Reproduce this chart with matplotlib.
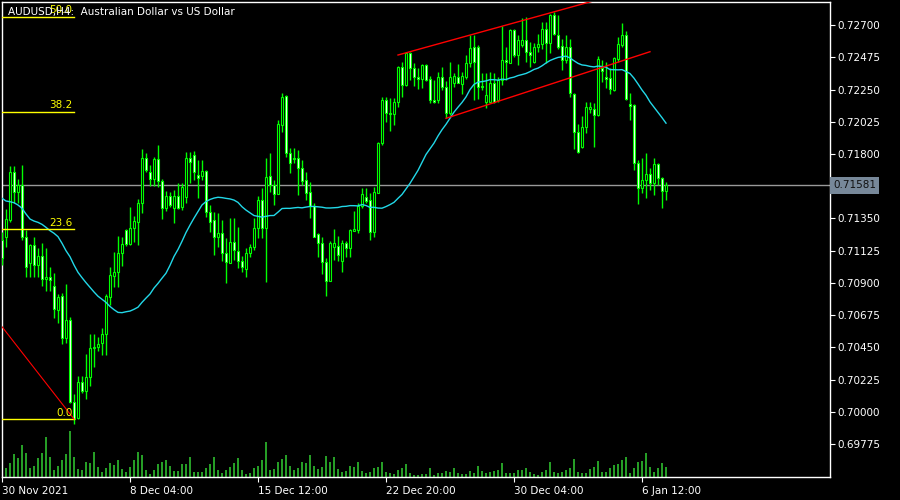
import matplotlib
matplotlib.use("Agg")
import matplotlib.pyplot as plt
import pandas as pd

symbol = "AUDUSD,H4:  Australian Dollar vs US Dollar"

# H4 bars, oldest first (bar 0 = 30 Nov 2021)
opens = [0.71200, 0.71221, 0.71339, 0.71674, 0.71535, 0.71584, 0.71221, 0.71039, 0.71165, 0.71025,
         0.71088, 0.70928, 0.70942, 0.70879, 0.70711, 0.70809, 0.70516, 0.70641, 0.70069, 0.69957,
         0.70209, 0.70146, 0.70244, 0.70446, 0.70453, 0.70481, 0.70544, 0.70802, 0.70949, 0.70976,
         0.71109, 0.71270, 0.71172, 0.71284, 0.71325, 0.71458, 0.71772, 0.71674, 0.71626, 0.71765,
         0.71612, 0.71423, 0.71507, 0.71423, 0.71507, 0.71430, 0.71500, 0.71772, 0.71793, 0.71653,
         0.71647, 0.71681, 0.71395, 0.71339, 0.71221, 0.71249, 0.71109, 0.71039, 0.71186, 0.71123,
         0.71053, 0.70997, 0.71109, 0.71151, 0.71284, 0.71479, 0.71284, 0.71647, 0.71584, 0.71521,
         0.72002, 0.72205, 0.71807, 0.71772, 0.71772, 0.71702, 0.71619, 0.71535, 0.71437, 0.71242,
         0.71179, 0.71046, 0.70914, 0.71151, 0.71158, 0.71053, 0.71179, 0.71144, 0.71263, 0.71270,
         0.71437, 0.71500, 0.71479, 0.71256, 0.71528, 0.71877, 0.72177, 0.72086, 0.72079, 0.72163,
         0.72407, 0.72282, 0.72505, 0.72400, 0.72338, 0.72324, 0.72421, 0.72324, 0.72177, 0.72177,
         0.72338, 0.72268, 0.72086, 0.72296, 0.72338, 0.72289, 0.72338, 0.72435, 0.72547, 0.72547,
         0.72275, 0.72163, 0.72163, 0.72296, 0.72177, 0.72317, 0.72456, 0.72435, 0.72666, 0.72491,
         0.72561, 0.72596, 0.72512, 0.72442, 0.72547, 0.72568, 0.72673, 0.72575, 0.72770, 0.72631,
         0.72554, 0.72456, 0.72547, 0.72219, 0.71954, 0.71849, 0.71988, 0.72114, 0.72114, 0.72072,
         0.72400, 0.72338, 0.72331, 0.72247, 0.72463, 0.72561, 0.72631, 0.72149, 0.72142, 0.71737,
         0.71563, 0.71619, 0.71660, 0.71598, 0.71730, 0.71633, 0.71542]
highs = [0.71256, 0.71416, 0.71716, 0.71716, 0.71626, 0.71723, 0.71270, 0.71172, 0.71221, 0.71144,
         0.71179, 0.71144, 0.71011, 0.70969, 0.70823, 0.70830, 0.70893, 0.70662, 0.70125, 0.70251,
         0.70251, 0.70404, 0.70544, 0.70544, 0.70523, 0.70586, 0.70823, 0.71011, 0.71116, 0.71228,
         0.71221, 0.71277, 0.71430, 0.71367, 0.71486, 0.71835, 0.71807, 0.71723, 0.71779, 0.71863,
         0.71626, 0.71542, 0.71535, 0.71549, 0.71598, 0.71598, 0.71814, 0.71814, 0.71821, 0.71758,
         0.71758, 0.71688, 0.71444, 0.71395, 0.71388, 0.71339, 0.71214, 0.71353, 0.71353, 0.71291,
         0.71088, 0.71144, 0.71172, 0.71353, 0.71507, 0.71563, 0.71772, 0.71807, 0.71619, 0.72037,
         0.72226, 0.72212, 0.71842, 0.71842, 0.71828, 0.71758, 0.71674, 0.71605, 0.71458, 0.71249,
         0.71221, 0.71074, 0.71193, 0.71277, 0.71228, 0.71200, 0.71193, 0.71277, 0.71402, 0.71458,
         0.71563, 0.71563, 0.71528, 0.71570, 0.71884, 0.72198, 0.72198, 0.72191, 0.72191, 0.72414,
         0.72442, 0.72512, 0.72512, 0.72435, 0.72400, 0.72428, 0.72428, 0.72345, 0.72317, 0.72372,
         0.72407, 0.72310, 0.72442, 0.72365, 0.72428, 0.72372, 0.72491, 0.72631, 0.72631, 0.72561,
         0.72365, 0.72365, 0.72372, 0.72365, 0.72338, 0.72694, 0.72547, 0.72673, 0.72673, 0.72631,
         0.72749, 0.72756, 0.72582, 0.72575, 0.72638, 0.72721, 0.72721, 0.72777, 0.72791, 0.72770,
         0.72603, 0.72631, 0.72603, 0.72226, 0.72009, 0.72065, 0.72163, 0.72163, 0.72156, 0.72484,
         0.72456, 0.72442, 0.72400, 0.72477, 0.72617, 0.72714, 0.72659, 0.72226, 0.72149, 0.71758,
         0.71772, 0.71807, 0.71702, 0.71772, 0.71737, 0.71640, 0.71605]
lows = [0.71025, 0.71151, 0.71325, 0.71458, 0.71458, 0.71200, 0.70942, 0.70942, 0.70942, 0.70942,
        0.70879, 0.70844, 0.70844, 0.70655, 0.70620, 0.70474, 0.70481, 0.70062, 0.69915, 0.69950,
        0.70132, 0.70090, 0.70181, 0.70313, 0.70425, 0.70397, 0.70397, 0.70746, 0.70872, 0.70872,
        0.71018, 0.71158, 0.71165, 0.71186, 0.71165, 0.71388, 0.71674, 0.71577, 0.71577, 0.71570,
        0.71346, 0.71402, 0.71430, 0.71318, 0.71416, 0.71409, 0.71458, 0.71598, 0.71619, 0.71493,
        0.71619, 0.71360, 0.71256, 0.71095, 0.71151, 0.71053, 0.70900, 0.71039, 0.71060, 0.71004,
        0.70976, 0.70942, 0.71081, 0.71130, 0.71214, 0.71214, 0.70907, 0.71535, 0.71444, 0.71521,
        0.71954, 0.71779, 0.71667, 0.71737, 0.71514, 0.71584, 0.71479, 0.71353, 0.71221, 0.71081,
        0.70962, 0.70809, 0.70914, 0.71060, 0.71053, 0.70976, 0.71081, 0.71081, 0.71263, 0.71249,
        0.71423, 0.71458, 0.71200, 0.71221, 0.71528, 0.71863, 0.72023, 0.71961, 0.72002, 0.72128,
        0.72198, 0.72275, 0.72317, 0.72275, 0.72254, 0.72261, 0.72310, 0.72156, 0.72156, 0.72156,
        0.72247, 0.72051, 0.72072, 0.72268, 0.72296, 0.72219, 0.72324, 0.72407, 0.72177, 0.72184,
        0.72247, 0.72121, 0.72156, 0.72156, 0.72163, 0.72282, 0.72317, 0.72435, 0.72477, 0.72421,
        0.72547, 0.72442, 0.72407, 0.72435, 0.72512, 0.72533, 0.72435, 0.72505, 0.72631, 0.72533,
        0.72386, 0.72435, 0.72198, 0.71835, 0.71807, 0.71842, 0.71947, 0.72086, 0.71849, 0.72065,
        0.72303, 0.72261, 0.72219, 0.72240, 0.72442, 0.72547, 0.72177, 0.72037, 0.71688, 0.71451,
        0.71528, 0.71493, 0.71549, 0.71514, 0.71584, 0.71423, 0.71479]
closes = [0.71074, 0.71346, 0.71674, 0.71535, 0.71584, 0.71221, 0.71011, 0.71165, 0.71025, 0.71088,
          0.70928, 0.70942, 0.70921, 0.70718, 0.70802, 0.70516, 0.70641, 0.70069, 0.69950, 0.70209,
          0.70146, 0.70244, 0.70446, 0.70453, 0.70474, 0.70544, 0.70809, 0.70955, 0.70976, 0.71109,
          0.71172, 0.71172, 0.71284, 0.71332, 0.71458, 0.71772, 0.71688, 0.71626, 0.71765, 0.71612,
          0.71423, 0.71507, 0.71444, 0.71507, 0.71423, 0.71570, 0.71772, 0.71744, 0.71674, 0.71633,
          0.71681, 0.71395, 0.71325, 0.71221, 0.71249, 0.71109, 0.71046, 0.71186, 0.71130, 0.71053,
          0.71011, 0.71109, 0.71151, 0.71284, 0.71479, 0.71284, 0.71638, 0.71584, 0.71521, 0.72009,
          0.72198, 0.71807, 0.71737, 0.71765, 0.71702, 0.71612, 0.71528, 0.71437, 0.71221, 0.71179,
          0.71046, 0.70914, 0.71179, 0.71179, 0.71095, 0.71179, 0.71144, 0.71270, 0.71277, 0.71437,
          0.71521, 0.71472, 0.71256, 0.71535, 0.71877, 0.72177, 0.72086, 0.72079, 0.72163, 0.72407,
          0.72282, 0.72505, 0.72400, 0.72338, 0.72324, 0.72421, 0.72317, 0.72177, 0.72163, 0.72338,
          0.72268, 0.72086, 0.72338, 0.72345, 0.72296, 0.72345, 0.72435, 0.72540, 0.72442, 0.72268,
          0.72268, 0.72212, 0.72296, 0.72163, 0.72317, 0.72456, 0.72442, 0.72666, 0.72491, 0.72596,
          0.72596, 0.72512, 0.72491, 0.72547, 0.72568, 0.72673, 0.72575, 0.72770, 0.72638, 0.72547,
          0.72456, 0.72547, 0.72226, 0.71954, 0.71814, 0.71988, 0.72128, 0.72128, 0.72072, 0.72463,
          0.72379, 0.72324, 0.72254, 0.72470, 0.72568, 0.72631, 0.72184, 0.72135, 0.71737, 0.71563,
          0.71619, 0.71660, 0.71598, 0.71730, 0.71633, 0.71542, 0.71581]
volume = [12, 9, 14, 23, 19, 32, 24, 9, 11, 19, 24, 40, 20, 7, 11, 17, 23, 46, 20, 8,
          7, 15, 14, 25, 10, 5, 9, 14, 12, 17, 8, 5, 10, 17, 25, 22, 7, 3, 7, 13,
          15, 17, 11, 6, 6, 13, 13, 20, 5, 5, 5, 9, 13, 20, 7, 4, 7, 10, 14, 19,
          7, 3, 4, 9, 11, 17, 35, 7, 8, 15, 18, 22, 11, 7, 9, 15, 14, 22, 11, 8,
          10, 21, 15, 20, 8, 5, 6, 11, 10, 15, 6, 4, 5, 9, 10, 15, 5, 4, 3, 7,
          9, 13, 4, 2, 2, 3, 3, 9, 2, 4, 4, 6, 5, 9, 4, 3, 3, 6, 4, 11,
          6, 4, 5, 6, 7, 14, 4, 4, 4, 7, 7, 9, 5, 3, 2, 5, 7, 15, 5, 4,
          5, 7, 9, 18, 5, 4, 4, 8, 10, 16, 5, 5, 9, 12, 13, 17, 20, 4, 9, 15,
          16, 24, 10, 5, 9, 14, 10]

# moving average: the first bars need history that is off screen
ma_period = 25
ma_head = [0.71491, 0.71472, 0.71467, 0.71460, 0.71444, 0.71421, 0.71381, 0.71346, 0.71332, 0.71323,
           0.71309, 0.71288, 0.71265, 0.71247, 0.71223, 0.71177, 0.71125, 0.71083, 0.71025, 0.70974,
           0.70937, 0.70902, 0.70870, 0.70837]

date_ticks = [0, 32, 64, 96, 128, 160]
date_labels = ["30 Nov 2021", "8 Dec 04:00", "15 Dec 12:00", "22 Dec 20:00", "30 Dec 04:00", "6 Jan 12:00"]
price_ticks = [0.69775, 0.70000, 0.70225, 0.70450, 0.70675, 0.70900, 0.71125, 0.71350,
               0.71800, 0.72025, 0.72250, 0.72475, 0.72700]

fib_levels = [0.0, 23.6, 38.2, 50.0]
fib_bars = [-139, 18]
fib_prices = [0.75569, 0.69950]
channel_upper = ([99, 150], [0.72491, 0.72885])
channel_lower = ([111, 162], [0.72049, 0.72514])

lime = "#00ff00"
font = 7.5

fig = plt.figure(figsize=(9, 5), dpi=100, facecolor="black")
ax = fig.add_axes([2 / 900, 23 / 500, 828 / 900, 475 / 500])
ax.set_facecolor("black")

# volumes on their own scale at the bottom
vax = ax.twinx()
vax.set_ylim(0, 475)
vax.vlines(range(len(volume)), 0, volume, color="#32cd32", lw=1.1)
vax.axis("off")
ax.set_zorder(vax.get_zorder() + 1)
ax.patch.set_visible(False)

x = list(range(len(closes)))
bull = [c >= o for o, c in zip(opens, closes)]
ax.vlines(x, lows, highs, color=lime, lw=1, zorder=3)
bottoms = [min(o, c) for o, c in zip(opens, closes)]
heights = [max(abs(c - o), 0.00003) for o, c in zip(opens, closes)]
fills = ["black" if b else "white" for b in bull]
ax.bar(x, heights, bottom=bottoms, width=0.5, color=fills, edgecolor=lime, lw=0.8, zorder=4)

ma = pd.Series(closes).rolling(ma_period).mean()
ma.iloc[:len(ma_head)] = ma_head
ax.plot(x, ma, color="#22d8e8", lw=1, zorder=5)

# bid line and its label
last = closes[-1]
ax.axhline(last, color="#999999", lw=1, zorder=2)
ax.text(1.004, last, f"{last:.5f}", transform=ax.get_yaxis_transform(), va="center", ha="left",
        fontsize=font, color="#111111", zorder=10, clip_on=False,
        bbox=dict(boxstyle="square,pad=0.3", fc="#778899", ec="none"))

# fibonacci levels and their trend line
lo, hi = fib_prices[1], fib_prices[0]
for lvl in fib_levels:
    p = lo + (hi - lo) * lvl / 100
    ax.plot(fib_bars, [p, p], color="#ffff00", lw=1, zorder=6)
    ax.annotate(f"{lvl:.1f}", (17.6, p), xytext=(0, 1), textcoords="offset points",
                ha="right", va="bottom", color="#ffff00", fontsize=font, zorder=7)
ax.plot(fib_bars, fib_prices, color="red", lw=0.8, zorder=6)

ax.plot(*channel_upper, color="red", lw=1, zorder=6)
ax.plot(*channel_lower, color="red", lw=1, zorder=6)

ax.set_xlim(0, 207)
ax.set_ylim(0.695455, 0.728610)

ax.yaxis.tick_right()
ax.set_yticks(price_ticks)
ax.set_yticklabels([f"{p:.5f}" for p in price_ticks])
ax.set_xticks(date_ticks)
ax.set_xticklabels(date_labels, ha="left")
ax.tick_params(colors="white", labelsize=font, length=3.5, width=0.8, pad=1.5)
ax.tick_params(axis="x", pad=3)
for s in ax.spines.values():
    s.set_color("white")
    s.set_linewidth(1)

fig.text(8 / 900, 1 - 11.5 / 500, symbol, color="white", fontsize=font, va="center")

fig.savefig("out.png", dpi=100, facecolor="black")
